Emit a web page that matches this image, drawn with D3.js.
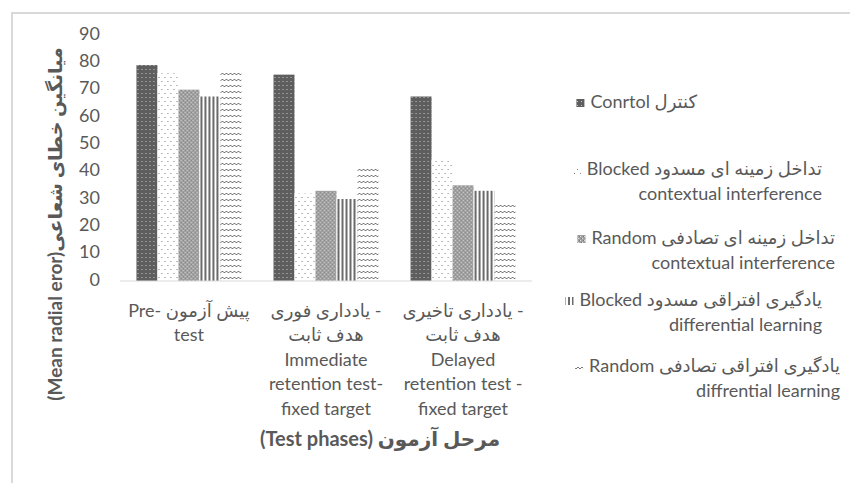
<!DOCTYPE html>
<html>
<head>
<meta charset="utf-8">
<script src="https://cdn.jsdelivr.net/npm/d3@7"></script>
<style>
  body { margin: 0; background: #fff; }
  svg text { font-family: Lato, "DejaVu Sans", sans-serif; fill: #595959; }
</style>
</head>
<body>
<svg id="mainCanvas" width="850" height="483"></svg>
<script>
var width = 850;
var height = 483;

// data
var phases = ['pre', 'immediate', 'delayed'];
var phaseLabels = [
    ['Pre- پیش آزمون', 'test'],
    ['یادداری فوری -', 'هدف ثابت', 'Immediate', 'retention test-', 'fixed target'],
    ['یادداری تاخیری -', 'هدف ثابت', 'Delayed', 'retention test -', 'fixed target']
];
var groups = ['control', 'blockedCI', 'randomCI', 'blockedDL', 'randomDL'];
var groupLabels = [
    ['Conrtol کنترل'],
    ['Blocked  تداخل زمینه ای مسدود', 'contextual interference'],
    ['Random  تداخل زمینه ای تصادفی', 'contextual interference'],
    ['Blocked  یادگیری افتراقی مسدود', 'differential learning'],
    ['Random  یادگیری افتراقی تصادفی', 'diffrential learning']
];
var control   = [79, 75.5, 67.5];
var blockedCI = [76, 32, 44.5];
var randomCI  = [70, 33, 35];
var blockedDL = [67.5, 30, 33];
var randomDL  = [77, 41, 28.5];
var yTicks = [0, 10, 20, 30, 40, 50, 60, 70, 80, 90];

var values = {
    control: control, blockedCI: blockedCI, randomCI: randomCI,
    blockedDL: blockedDL, randomDL: randomDL
};

var LRM = '\u200E';
var svg = d3.select('#mainCanvas');

// patterns
var defs = svg.append('defs');
var p;
p = defs.append('pattern').attr('id', 'pat-control').attr('patternUnits', 'userSpaceOnUse')
    .attr('width', 4).attr('height', 4);
p.append('rect').attr('width', 4).attr('height', 4).attr('fill', '#5e5e5e');
p.append('rect').attr('x', 1).attr('y', 1).attr('width', 1).attr('height', 1).attr('fill', '#c8c8c8');

p = defs.append('pattern').attr('id', 'pat-blockedCI').attr('patternUnits', 'userSpaceOnUse')
    .attr('width', 6).attr('height', 8);
p.append('rect').attr('width', 6).attr('height', 8).attr('fill', '#fff');
p.append('rect').attr('x', 1).attr('y', 1).attr('width', 1).attr('height', 1).attr('fill', '#7a7a7a');
p.append('rect').attr('x', 4).attr('y', 5).attr('width', 1).attr('height', 1).attr('fill', '#7a7a7a');

p = defs.append('pattern').attr('id', 'pat-randomCI').attr('patternUnits', 'userSpaceOnUse')
    .attr('width', 4).attr('height', 4);
p.append('rect').attr('width', 4).attr('height', 4).attr('fill', '#a0a0a0');
p.append('rect').attr('x', 0).attr('y', 0).attr('width', 1).attr('height', 1).attr('fill', '#e0e0e0');
p.append('rect').attr('x', 2).attr('y', 2).attr('width', 1).attr('height', 1).attr('fill', '#e0e0e0');
p.append('rect').attr('x', 1).attr('y', 2).attr('width', 1).attr('height', 1).attr('fill', '#777');
p.append('rect').attr('x', 3).attr('y', 0).attr('width', 1).attr('height', 1).attr('fill', '#777');

p = defs.append('pattern').attr('id', 'pat-blockedDL').attr('patternUnits', 'userSpaceOnUse')
    .attr('width', 4).attr('height', 4);
p.append('rect').attr('width', 4).attr('height', 4).attr('fill', '#fff');
p.append('rect').attr('x', 0).attr('width', 2).attr('height', 4).attr('fill', '#6a6a6a');

p = defs.append('pattern').attr('id', 'pat-randomDL').attr('patternUnits', 'userSpaceOnUse')
    .attr('width', 8).attr('height', 6);
p.append('rect').attr('width', 8).attr('height', 6).attr('fill', '#fff');
p.append('path').attr('d', 'M0,3 L2,1 L4,3 L6,1 L8,3').attr('fill', 'none')
    .attr('stroke', '#777').attr('stroke-width', 1);

// frame
svg.append('rect')
   .attr('x', 12).attr('y', 13)
   .attr('width', 850).attr('height', 490)
   .attr('fill', 'none')
   .attr('stroke', '#d9d9d9')
   .attr('stroke-width', 2);

var y = d3.scaleLinear().domain([0, 90]).range([281, 35]);
var x0 = d3.scaleBand().domain(phases).range([120, 532])
    .paddingInner(0.234).paddingOuter(0.12);
var x1 = d3.scaleBand().domain(groups).range([0, x0.bandwidth()]);

// y tick labels
svg.append('g').selectAll('text')
   .data(yTicks)
   .enter()
   .append('text')
   .attr('x', 100)
   .attr('y', function(d) { return y(d); })
   .attr('text-anchor', 'end')
   .attr('dominant-baseline', 'middle')
   .style('font-size', '18px')
   .text(function(d) { return d; });

// bars
var phaseGroup = svg.append('g').selectAll('g')
    .data(phases)
    .enter()
    .append('g')
    .attr('transform', function(d) { return 'translate(' + x0(d) + ',0)'; });

phaseGroup.selectAll('rect')
    .data(function(ph, i) {
        return groups.map(function(g) { return { key: g, value: values[g][i] }; });
    })
    .enter()
    .append('rect')
    .attr('x', function(d) { return x1(d.key); })
    .attr('width', x1.bandwidth())
    .attr('y', function(d) { return y(d.value); })
    .attr('height', function(d) { return y(0) - y(d.value); })
    .attr('fill', function(d) { return 'url(#pat-' + d.key + ')'; });

// baseline
svg.append('line')
   .attr('x1', 120).attr('x2', 532)
   .attr('y1', y(0)).attr('y2', y(0))
   .attr('stroke', '#d9d9d9').attr('stroke-width', 1);

// category labels
phases.forEach(function(ph, i) {
    svg.append('g').selectAll('text')
       .data(phaseLabels[i])
       .enter()
       .append('text')
       .attr('x', x0(ph) + x0.bandwidth() / 2)
       .attr('y', function(d, j) { return 312 + j * 24.5; })
       .attr('text-anchor', 'middle')
       .attr('dominant-baseline', 'middle')
       .style('font-size', '18px')
       .text(function(d) { return LRM + d; });
});

// axis titles
svg.append('text')
   .attr('transform', 'translate(57,224) rotate(-90)')
   .attr('text-anchor', 'middle')
   .attr('dominant-baseline', 'middle')
   .style('font-size', '19px')
   .style('font-weight', 'bold')
   .text('(Mean radial eror)میانگین خطای شعاعی');

svg.append('text')
   .attr('x', 380).attr('y', 441)
   .attr('text-anchor', 'middle')
   .attr('dominant-baseline', 'middle')
   .style('font-size', '20px')
   .style('font-weight', 'bold')
   .text('(Test phases) مرحل آزمون');

// legend
var legendRight = [697, 822, 835, 822, 840];
var legendY = [103, 170, 239, 301, 367];
groups.forEach(function(g, i) {
    var lg = svg.append('g');
    var lines = lg.selectAll('text')
        .data(groupLabels[i])
        .enter()
        .append('text')
        .attr('x', legendRight[i])
        .attr('y', function(d, j) { return legendY[i] + j * 25; })
        .attr('text-anchor', 'end')
        .attr('dominant-baseline', 'middle')
        .style('font-size', '18px')
        .text(function(d) { return d; });
    var first = lines.node().getComputedTextLength();
    lg.append('rect')
        .attr('x', legendRight[i] - first - 14)
        .attr('y', legendY[i] - 4)
        .attr('width', 8).attr('height', 8)
        .attr('fill', 'url(#pat-' + g + ')');
});
</script>
</body>
</html>
